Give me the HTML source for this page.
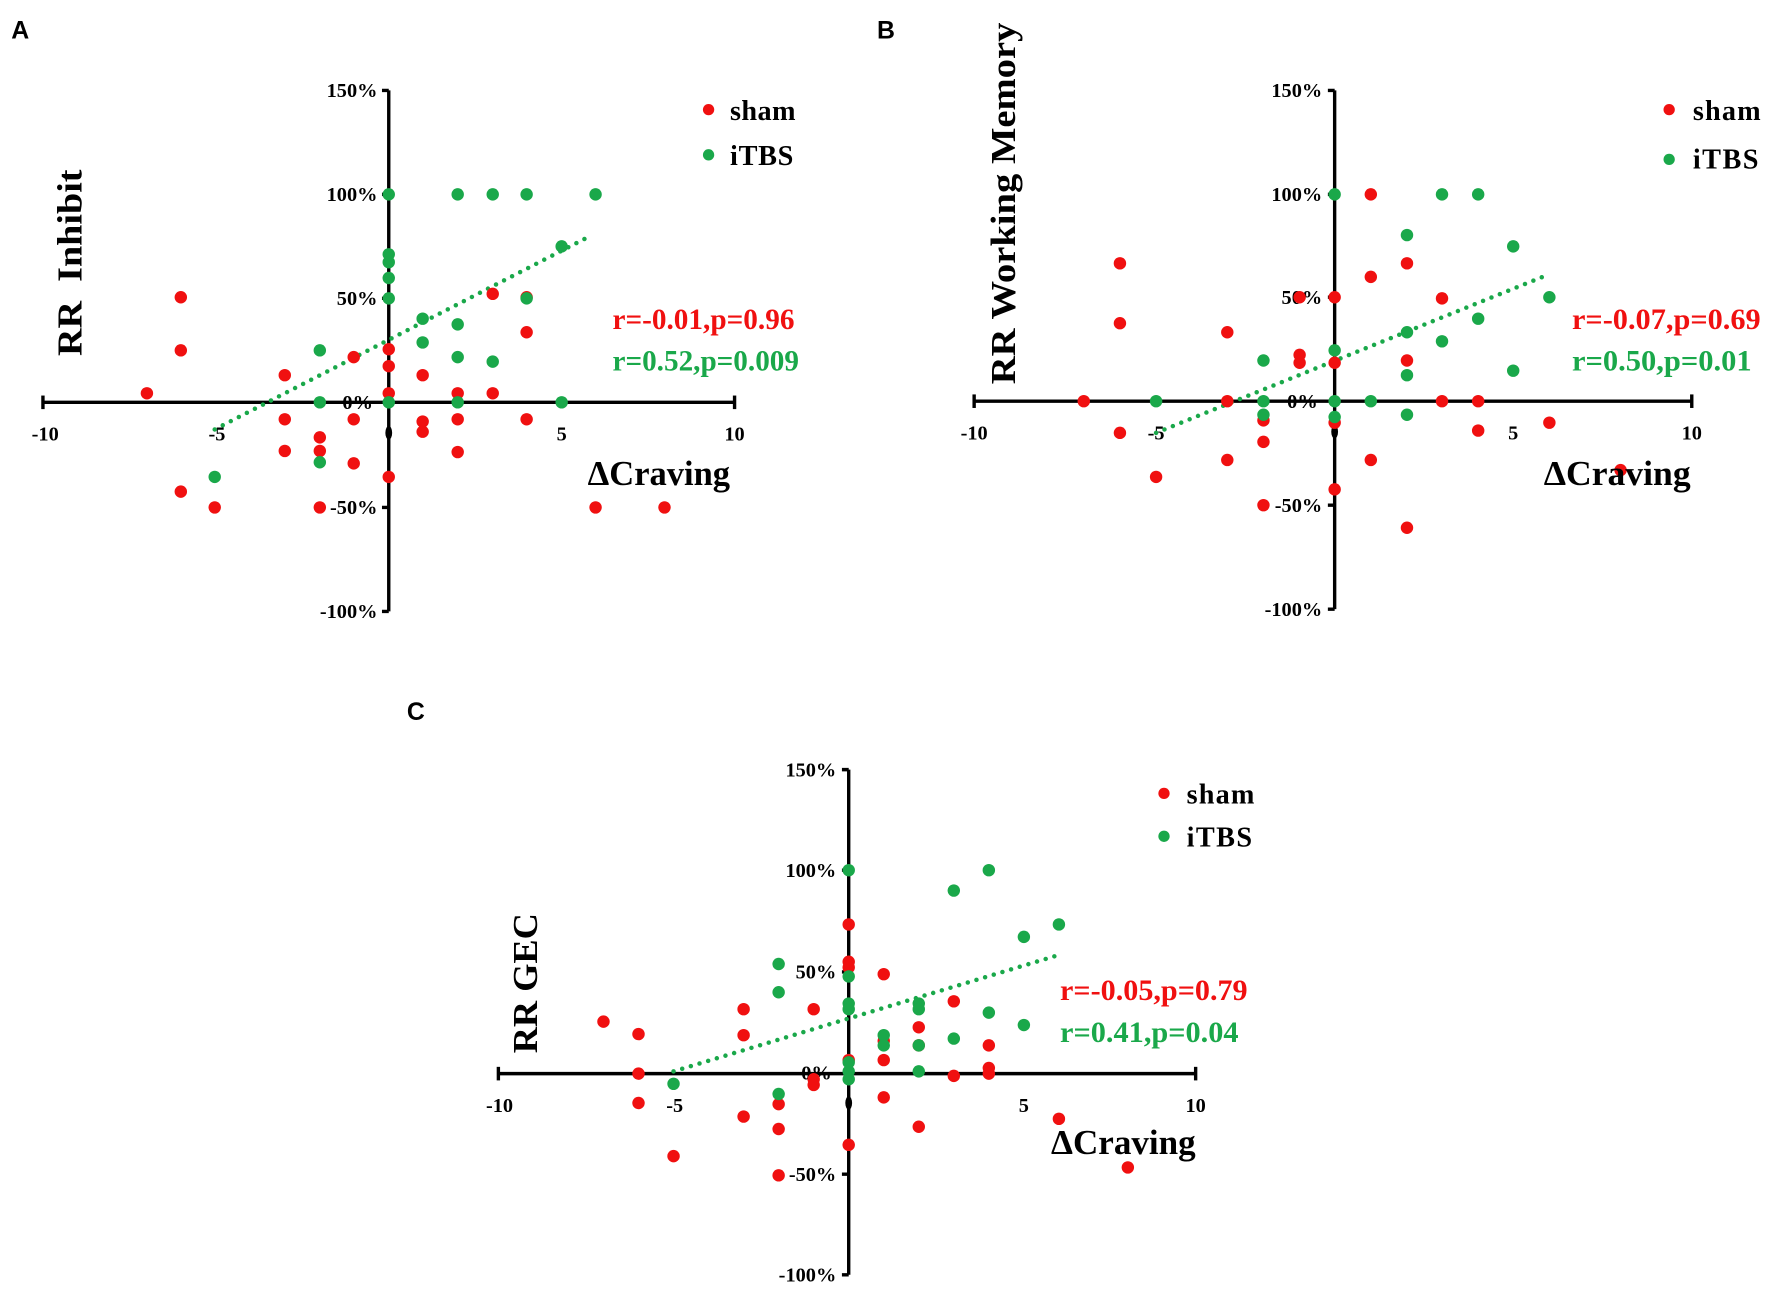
<!DOCTYPE html>
<html><head><meta charset="utf-8"><style>html,body{margin:0;padding:0;background:#fff}svg{display:block}</style></head>
<body>
<svg width="1772" height="1294" viewBox="0 0 1568 1145" preserveAspectRatio="none" xmlns="http://www.w3.org/2000/svg" font-family="Liberation Serif, serif" font-weight="bold">
<g font-family="Liberation Sans, sans-serif" font-size="22" fill="#000">
<text x="10" y="34">A</text><text x="776" y="34">B</text><text x="360" y="637">C</text>
</g>

<!-- Panel A -->
<g stroke="#000" stroke-width="3" fill="none">
<line x1="38" y1="356" x2="650" y2="356"/><line x1="38" y1="350" x2="38" y2="362"/><line x1="650" y1="350" x2="650" y2="362"/>
<line x1="344" y1="80" x2="344" y2="541"/>
<path d="M338 80h6M338 172h6M338 264h6M338 449h6M338 541h6"/>
</g>
<ellipse cx="344" cy="383" rx="3" ry="6" fill="#000"/>
<g font-size="18" text-anchor="end">
<text x="334" y="86">150%</text><text x="334" y="178">100%</text><text x="334" y="270">50%</text><text x="330" y="362">0%</text><text x="334" y="455">-50%</text><text x="334" y="547">-100%</text>
</g>
<g font-size="18" text-anchor="middle"><text x="40" y="390">-10</text><text x="192" y="390">-5</text><text x="497" y="390">5</text><text x="650" y="390">10</text></g>
<line x1="190" y1="380" x2="520" y2="210" stroke="#1aa84a" stroke-width="4" stroke-dasharray="0 8" stroke-linecap="round"/>
<g fill="#f01010">
<circle cx="130" cy="348" r="5.5"/><circle cx="160" cy="263" r="5.5"/><circle cx="160" cy="310" r="5.5"/><circle cx="160" cy="435" r="5.5"/><circle cx="190" cy="449" r="5.5"/><circle cx="252" cy="332" r="5.5"/><circle cx="252" cy="371" r="5.5"/><circle cx="252" cy="399" r="5.5"/><circle cx="283" cy="387" r="5.5"/><circle cx="283" cy="399" r="5.5"/><circle cx="283" cy="449" r="5.5"/><circle cx="313" cy="316" r="5.5"/><circle cx="313" cy="371" r="5.5"/><circle cx="313" cy="410" r="5.5"/><circle cx="344" cy="348" r="5.5"/><circle cx="344" cy="324" r="5.5"/><circle cx="344" cy="309" r="5.5"/><circle cx="344" cy="422" r="5.5"/><circle cx="374" cy="332" r="5.5"/><circle cx="374" cy="373" r="5.5"/><circle cx="374" cy="382" r="5.5"/><circle cx="405" cy="348" r="5.5"/><circle cx="405" cy="371" r="5.5"/><circle cx="405" cy="400" r="5.5"/><circle cx="436" cy="260" r="5.5"/><circle cx="436" cy="348" r="5.5"/><circle cx="466" cy="263" r="5.5"/><circle cx="466" cy="294" r="5.5"/><circle cx="466" cy="371" r="5.5"/><circle cx="527" cy="449" r="5.5"/><circle cx="588" cy="449" r="5.5"/>
</g>
<g fill="#1aa84a">
<circle cx="190" cy="422" r="5.5"/><circle cx="283" cy="310" r="5.5"/><circle cx="283" cy="356" r="5.5"/><circle cx="283" cy="409" r="5.5"/><circle cx="344" cy="172" r="5.5"/><circle cx="344" cy="225" r="5.5"/><circle cx="344" cy="232" r="5.5"/><circle cx="344" cy="246" r="5.5"/><circle cx="344" cy="264" r="5.5"/><circle cx="344" cy="356" r="5.5"/><circle cx="374" cy="282" r="5.5"/><circle cx="374" cy="303" r="5.5"/><circle cx="405" cy="172" r="5.5"/><circle cx="405" cy="287" r="5.5"/><circle cx="405" cy="316" r="5.5"/><circle cx="405" cy="356" r="5.5"/><circle cx="436" cy="172" r="5.5"/><circle cx="436" cy="320" r="5.5"/><circle cx="466" cy="172" r="5.5"/><circle cx="466" cy="264" r="5.5"/><circle cx="497" cy="218" r="5.5"/><circle cx="497" cy="356" r="5.5"/><circle cx="527" cy="172" r="5.5"/>
</g>
<circle cx="627" cy="97" r="5" fill="#f01010"/><text x="646" y="106" font-size="25" textLength="58">sham</text>
<circle cx="627" cy="137" r="5" fill="#1aa84a"/><text x="646" y="146" font-size="25" textLength="56">iTBS</text>
<text x="542" y="291" font-size="26" fill="#f01010" textLength="161" lengthAdjust="spacingAndGlyphs">r=-0.01,p=0.96</text>
<text x="542" y="328" font-size="26" fill="#1aa84a" textLength="165" lengthAdjust="spacingAndGlyphs">r=0.52,p=0.009</text>
<text x="520" y="429" font-size="31" textLength="126" lengthAdjust="spacingAndGlyphs">ΔCraving</text>
<text transform="translate(72,315) rotate(-90)" font-size="31" textLength="165" lengthAdjust="spacingAndGlyphs" xml:space="preserve">RR  Inhibit</text>

<!-- Panel B -->
<g stroke="#000" stroke-width="3" fill="none">
<line x1="862" y1="355" x2="1497" y2="355"/><line x1="862" y1="349" x2="862" y2="361"/><line x1="1497" y1="349" x2="1497" y2="361"/>
<line x1="1181" y1="80" x2="1181" y2="539"/>
<path d="M1175 80h6M1175 172h6M1175 263h6M1175 447h6M1175 539h6"/>
</g>
<ellipse cx="1181" cy="382" rx="3" ry="6" fill="#000"/>
<g font-size="18" text-anchor="end">
<text x="1170" y="86">150%</text><text x="1170" y="178">100%</text><text x="1170" y="269">50%</text><text x="1166" y="361">0%</text><text x="1170" y="453">-50%</text><text x="1170" y="545">-100%</text>
</g>
<g font-size="18" text-anchor="middle"><text x="862" y="389">-10</text><text x="1023" y="389">-5</text><text x="1339" y="389">5</text><text x="1497" y="389">10</text></g>
<line x1="1023" y1="383" x2="1365" y2="245" stroke="#1aa84a" stroke-width="4" stroke-dasharray="0 8" stroke-linecap="round"/>
<g fill="#f01010">
<circle cx="959" cy="355" r="5.5"/><circle cx="991" cy="233" r="5.5"/><circle cx="991" cy="286" r="5.5"/><circle cx="991" cy="383" r="5.5"/><circle cx="1023" cy="422" r="5.5"/><circle cx="1086" cy="294" r="5.5"/><circle cx="1086" cy="355" r="5.5"/><circle cx="1086" cy="407" r="5.5"/><circle cx="1118" cy="372" r="5.5"/><circle cx="1118" cy="391" r="5.5"/><circle cx="1118" cy="447" r="5.5"/><circle cx="1150" cy="263" r="5.5"/><circle cx="1150" cy="314" r="5.5"/><circle cx="1150" cy="321" r="5.5"/><circle cx="1181" cy="263" r="5.5"/><circle cx="1181" cy="321" r="5.5"/><circle cx="1181" cy="374" r="5.5"/><circle cx="1181" cy="433" r="5.5"/><circle cx="1213" cy="172" r="5.5"/><circle cx="1213" cy="245" r="5.5"/><circle cx="1213" cy="407" r="5.5"/><circle cx="1245" cy="233" r="5.5"/><circle cx="1245" cy="319" r="5.5"/><circle cx="1245" cy="467" r="5.5"/><circle cx="1276" cy="264" r="5.5"/><circle cx="1276" cy="355" r="5.5"/><circle cx="1308" cy="355" r="5.5"/><circle cx="1308" cy="381" r="5.5"/><circle cx="1371" cy="374" r="5.5"/><circle cx="1434" cy="416" r="5.5"/>
</g>
<g fill="#1aa84a">
<circle cx="1023" cy="355" r="5.5"/><circle cx="1118" cy="319" r="5.5"/><circle cx="1118" cy="355" r="5.5"/><circle cx="1118" cy="367" r="5.5"/><circle cx="1181" cy="172" r="5.5"/><circle cx="1181" cy="310" r="5.5"/><circle cx="1181" cy="355" r="5.5"/><circle cx="1181" cy="369" r="5.5"/><circle cx="1213" cy="355" r="5.5"/><circle cx="1245" cy="208" r="5.5"/><circle cx="1245" cy="294" r="5.5"/><circle cx="1245" cy="332" r="5.5"/><circle cx="1245" cy="367" r="5.5"/><circle cx="1276" cy="172" r="5.5"/><circle cx="1276" cy="302" r="5.5"/><circle cx="1308" cy="172" r="5.5"/><circle cx="1308" cy="282" r="5.5"/><circle cx="1339" cy="218" r="5.5"/><circle cx="1339" cy="328" r="5.5"/><circle cx="1371" cy="263" r="5.5"/>
</g>
<circle cx="1477" cy="97" r="5" fill="#f01010"/><text x="1498" y="106" font-size="25" textLength="60">sham</text>
<circle cx="1477" cy="141" r="5" fill="#1aa84a"/><text x="1498" y="149" font-size="25" textLength="58">iTBS</text>
<text x="1391" y="291" font-size="26" fill="#f01010" textLength="167" lengthAdjust="spacingAndGlyphs">r=-0.07,p=0.69</text>
<text x="1391" y="328" font-size="26" fill="#1aa84a" textLength="159" lengthAdjust="spacingAndGlyphs">r=0.50,p=0.01</text>
<text x="1366" y="429" font-size="31" textLength="130" lengthAdjust="spacingAndGlyphs">ΔCraving</text>
<text transform="translate(898,340) rotate(-90)" font-size="31" textLength="320" lengthAdjust="spacingAndGlyphs">RR Working Memory</text>

<!-- Panel C -->
<g stroke="#000" stroke-width="3" fill="none">
<line x1="441" y1="950" x2="1058" y2="950"/><line x1="441" y1="944" x2="441" y2="956"/><line x1="1058" y1="944" x2="1058" y2="956"/>
<line x1="751" y1="681" x2="751" y2="1128"/>
<path d="M745 681h6M745 770h6M745 860h6M745 1039h6M745 1128h6"/>
</g>
<ellipse cx="751" cy="976" rx="3" ry="6" fill="#000"/>
<g font-size="18" text-anchor="end">
<text x="740" y="687">150%</text><text x="740" y="776">100%</text><text x="740" y="866">50%</text><text x="736" y="955">0%</text><text x="740" y="1045">-50%</text><text x="740" y="1134">-100%</text>
</g>
<g font-size="18" text-anchor="middle"><text x="442" y="984">-10</text><text x="597" y="984">-5</text><text x="906" y="984">5</text><text x="1058" y="984">10</text></g>
<line x1="596" y1="948" x2="937" y2="845" stroke="#1aa84a" stroke-width="4" stroke-dasharray="0 8" stroke-linecap="round"/>
<g fill="#f01010">
<circle cx="534" cy="904" r="5.5"/><circle cx="565" cy="915" r="5.5"/><circle cx="565" cy="950" r="5.5"/><circle cx="565" cy="976" r="5.5"/><circle cx="596" cy="1023" r="5.5"/><circle cx="658" cy="893" r="5.5"/><circle cx="658" cy="916" r="5.5"/><circle cx="658" cy="988" r="5.5"/><circle cx="689" cy="977" r="5.5"/><circle cx="689" cy="999" r="5.5"/><circle cx="689" cy="1040" r="5.5"/><circle cx="720" cy="893" r="5.5"/><circle cx="720" cy="955" r="5.5"/><circle cx="720" cy="960" r="5.5"/><circle cx="751" cy="818" r="5.5"/><circle cx="751" cy="851" r="5.5"/><circle cx="751" cy="856" r="5.5"/><circle cx="751" cy="938" r="5.5"/><circle cx="751" cy="1013" r="5.5"/><circle cx="782" cy="862" r="5.5"/><circle cx="782" cy="921" r="5.5"/><circle cx="782" cy="938" r="5.5"/><circle cx="782" cy="971" r="5.5"/><circle cx="813" cy="909" r="5.5"/><circle cx="813" cy="925" r="5.5"/><circle cx="813" cy="997" r="5.5"/><circle cx="844" cy="886" r="5.5"/><circle cx="844" cy="952" r="5.5"/><circle cx="875" cy="925" r="5.5"/><circle cx="875" cy="945" r="5.5"/><circle cx="875" cy="950" r="5.5"/><circle cx="937" cy="990" r="5.5"/><circle cx="998" cy="1033" r="5.5"/>
</g>
<g fill="#1aa84a">
<circle cx="596" cy="959" r="5.5"/><circle cx="689" cy="853" r="5.5"/><circle cx="689" cy="878" r="5.5"/><circle cx="689" cy="968" r="5.5"/><circle cx="751" cy="770" r="5.5"/><circle cx="751" cy="864" r="5.5"/><circle cx="751" cy="888" r="5.5"/><circle cx="751" cy="893" r="5.5"/><circle cx="751" cy="940" r="5.5"/><circle cx="751" cy="948" r="5.5"/><circle cx="751" cy="955" r="5.5"/><circle cx="782" cy="916" r="5.5"/><circle cx="782" cy="925" r="5.5"/><circle cx="813" cy="888" r="5.5"/><circle cx="813" cy="893" r="5.5"/><circle cx="813" cy="925" r="5.5"/><circle cx="813" cy="948" r="5.5"/><circle cx="844" cy="788" r="5.5"/><circle cx="844" cy="919" r="5.5"/><circle cx="875" cy="770" r="5.5"/><circle cx="875" cy="896" r="5.5"/><circle cx="906" cy="829" r="5.5"/><circle cx="906" cy="907" r="5.5"/><circle cx="937" cy="818" r="5.5"/>
</g>
<circle cx="1030" cy="702" r="5" fill="#f01010"/><text x="1050" y="711" font-size="25" textLength="60">sham</text>
<circle cx="1030" cy="740" r="5" fill="#1aa84a"/><text x="1050" y="749" font-size="25" textLength="58">iTBS</text>
<text x="938" y="885" font-size="26" fill="#f01010" textLength="166" lengthAdjust="spacingAndGlyphs">r=-0.05,p=0.79</text>
<text x="938" y="922" font-size="26" fill="#1aa84a" textLength="158" lengthAdjust="spacingAndGlyphs">r=0.41,p=0.04</text>
<text x="930" y="1021" font-size="31" textLength="128" lengthAdjust="spacingAndGlyphs">ΔCraving</text>
<text transform="translate(475,932) rotate(-90)" font-size="31" textLength="124" lengthAdjust="spacingAndGlyphs">RR GEC</text>
</svg>
</body></html>
